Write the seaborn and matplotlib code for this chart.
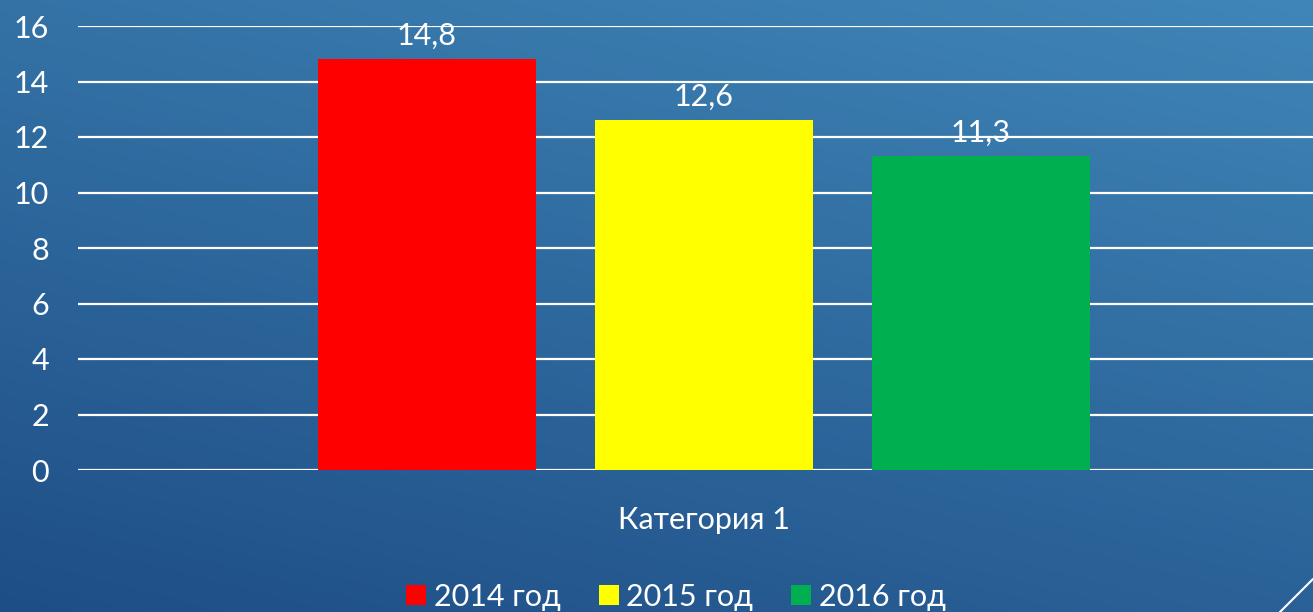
import matplotlib
matplotlib.use("Agg")
import matplotlib.pyplot as plt
import matplotlib.lines as mlines
import numpy as np
import pandas as pd
import seaborn as sns

categories = ["Категория 1"]
years = ["2014 год", "2015 год", "2016 год"]
values = [14.8, 12.6, 11.3]
colors = ["#ff0000", "#ffff00", "#00b050"]
yticks = [0, 2, 4, 6, 8, 10, 12, 14, 16]

df = pd.DataFrame({
    "category": categories * len(years),
    "year": years,
    "value": values,
})

sns.set_theme(style="white")
plt.rcParams["font.family"] = ["Lato", "DejaVu Sans"]

W, H = 1313, 612
fig = plt.figure(figsize=(W / 100, H / 100), dpi=100)

# gradient background
bg = fig.add_axes([0, 0, 1, 1])
yy, xx = np.mgrid[0:1:200j, 0:1:200j]
t = 0.65 * yy + 0.35 * xx
top = np.array([64, 134, 184]) / 255
bot = np.array([30, 78, 134]) / 255
img = bot[None, None, :] * (1 - t[..., None]) + top[None, None, :] * t[..., None]
bg.imshow(img, origin="lower", extent=[0, 1, 0, 1], aspect="auto")
bg.axis("off")

ax = fig.add_axes([78 / W, 1 - 470 / H, (W - 78) / W, 444 / H])
ax.patch.set_alpha(0)

sns.barplot(data=df, x="category", y="value", hue="year", palette=colors,
            width=0.8, gap=0.214, saturation=1, linewidth=0, ax=ax, legend=True)

ax.set_ylim(0, 16)
ax.set_xlim(-0.602, 0.586)
ax.set_yticks(yticks)
ax.yaxis.grid(True, color="white", linewidth=1.6)
ax.set_axisbelow(True)
for s in ax.spines.values():
    s.set_visible(False)
ax.tick_params(axis="y", colors="white", labelsize=22, length=0, pad=21)
ax.tick_params(axis="x", colors="white", labelsize=22, length=0, pad=26)
ax.set_xlabel("")
ax.set_ylabel("")

for cont in ax.containers:
    ax.bar_label(cont, labels=[f"{v:.1f}".replace(".", ",") for v in cont.datavalues],
                 padding=7, color="white", fontsize=22)

handles, labels = ax.get_legend_handles_labels()
ax.legend(handles, labels, loc="center", bbox_to_anchor=(676 / W, 1 - 597 / H),
          bbox_transform=fig.transFigure, ncol=3, frameon=False,
          fontsize=22, labelcolor="white", handlelength=0.65, handleheight=0.65,
          handletextpad=0.25, columnspacing=1.25)

fig.add_artist(mlines.Line2D([1.0, 1280 / W], [1 - 579 / H, 0],
                             color="white", linewidth=1.5))

fig.savefig("out.png", dpi=100)
